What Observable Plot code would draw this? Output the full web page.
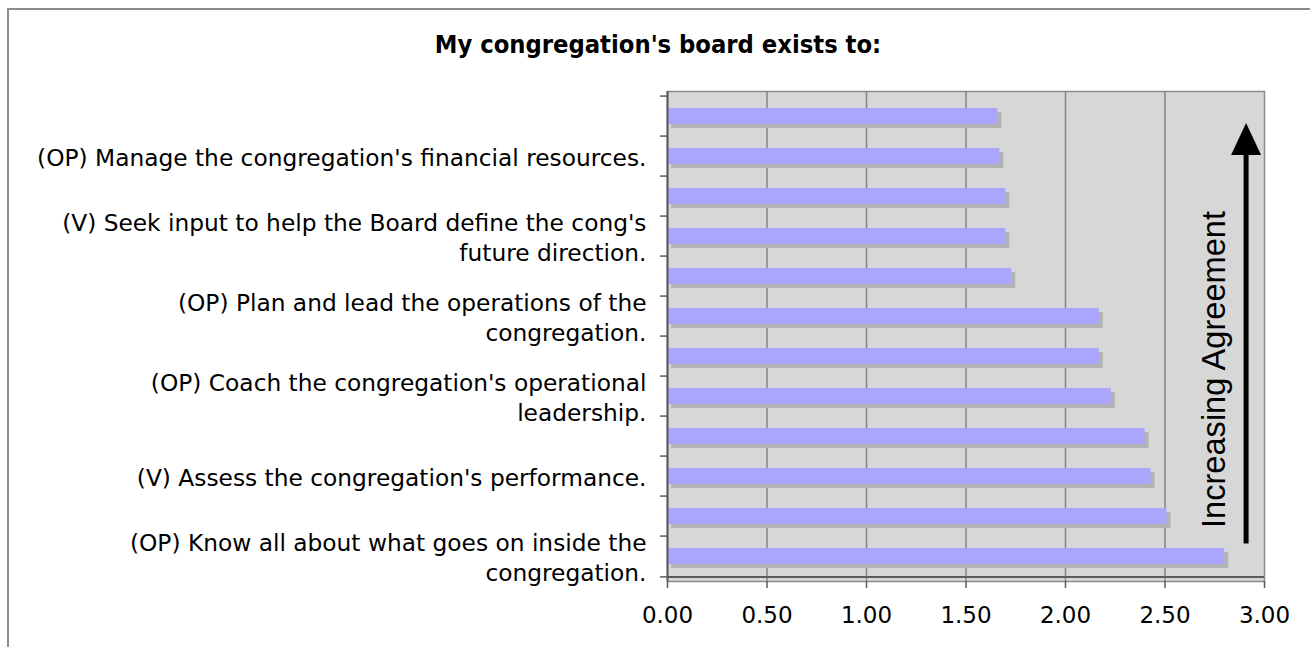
<!DOCTYPE html>
<html>
<head>
<meta charset="utf-8">
<script src="https://cdn.jsdelivr.net/npm/d3@7"></script>
<script src="https://cdn.jsdelivr.net/npm/@observablehq/plot@0.6"></script>
<style>
html, body { margin: 0; padding: 0; background: #fff; }
#wrap { position: relative; width: 1310px; height: 647px; overflow: hidden; }
#border { position: absolute; left: 7px; top: 8px; width: 1400px; height: 700px; border-left: 2px solid #8c8c8c; border-top: 2px solid #8c8c8c; }
#title { position: absolute; left: 0; width: 1316px; top: 32px; text-align: center; line-height: 25px;
  font-family: "DejaVu Sans Condensed", "DejaVu Sans", sans-serif; font-stretch: condensed; font-weight: bold; font-size: 25.3px; color: #000; }
#chart { position: absolute; left: 0; top: 0; }
</style>
</head>
<body>
<div id="wrap">
  <div id="border"></div>
  <div id="chart"></div>
  <div id="title">My congregation's board exists to:</div>
</div>
<script>
// Categories, top to bottom (only every other label is shown in the original)
const categoryIds = ["c01","c02","c03","c04","c05","c06","c07","c08","c09","c10","c11","c12"];
const categoryLabels = [
  "",
  "(OP) Manage the congregation's financial resources.",
  "",
  "(V) Seek input to help the Board define the cong's\nfuture direction.",
  "",
  "(OP) Plan and lead the operations of the\ncongregation.",
  "",
  "(OP) Coach the congregation's operational\nleadership.",
  "",
  "(V) Assess the congregation's performance.",
  "",
  "(OP) Know all about what goes on inside the\ncongregation."
];
const values = [1.66, 1.67, 1.70, 1.70, 1.73, 2.17, 2.17, 2.23, 2.40, 2.43, 2.51, 2.80];
const xTicks = [0, 0.5, 1, 1.5, 2, 2.5, 3];
const annotationText = ["Increasing Agreement"];

const rows = categoryIds.map((id, i) => ({id, label: categoryLabels[i], value: values[i]}));

const W = 1310, H = 647, mT = 91, mB = 66, mL = 667, mR = 46;
const bw = (H - mT - mB) / categoryIds.length;
const axisColor = "#5a5a5a";

const plot = Plot.plot({
  width: W, height: H,
  marginTop: mT, marginBottom: mB, marginLeft: mL, marginRight: mR,
  style: {fontFamily: "DejaVu Sans", fontSize: "23px", color: "#000", background: "transparent", overflow: "visible"},
  x: {domain: [0, 3], axis: null},
  y: {domain: categoryIds, padding: 0, axis: null},
  marks: [
    Plot.frame({fill: "#d7d7d7", stroke: "#8c8c8c", strokeWidth: 1.5}),
    Plot.gridX(xTicks.filter(t => t > 0 && t < 3), {stroke: "#858585", strokeOpacity: 1, strokeWidth: 1.5}),
    Plot.barX(rows, {x: "value", y: "id", fill: "#b3b3b3", dx: 4, dy: 4, insetTop: 12, insetBottom: 12}),
    Plot.barX(rows, {x: "value", y: "id", fill: "#aaa6fe", insetTop: 12, insetBottom: 12}),
    Plot.ruleX([0], {stroke: axisColor, strokeWidth: 2}),
    Plot.ruleY([categoryIds[categoryIds.length - 1]], {dy: bw / 2, stroke: axisColor, strokeWidth: 2}),
    Plot.axisY(categoryIds, {tickFormat: () => "", label: null, tickSize: 7, dy: -bw / 2, stroke: axisColor, strokeWidth: 1.5}),
    Plot.axisY([categoryIds[categoryIds.length - 1]], {tickFormat: () => "", label: null, tickSize: 7, dy: bw / 2, stroke: axisColor, strokeWidth: 1.5}),
    Plot.text(rows, {y: "id", text: "label", frameAnchor: "left", textAnchor: "end", dx: -21, lineHeight: 1.3, fontSize: 23.3, fill: "#000"}),
    Plot.axisX(xTicks, {tickFormat: d3.format(".2f"), label: null, tickSize: 7, tickPadding: 18, stroke: axisColor, strokeWidth: 1.5, fontSize: 23, fill: "#000"}),
    Plot.text(annotationText, {frameAnchor: "right", rotate: -90, dx: -50, dy: 33, fontSize: 32.6, fontFamily: "Liberation Sans", fill: "#000", textAnchor: "middle"})
  ]
});

// Arrow annotation placed via the plot's own scales
const sx = plot.scale("x"), sy = plot.scale("y");
const ax = sx.apply(2.91);
const yTop = sy.apply(categoryIds[0]) + 27;
const yBot = sy.apply(categoryIds[categoryIds.length - 1]) + bw / 2 - 13;
const svg = d3.select(plot);
const g = svg.append("g");
g.append("line").attr("x1", ax).attr("x2", ax).attr("y1", yBot).attr("y2", yTop + 25)
  .attr("stroke", "#000").attr("stroke-width", 5);
g.append("path").attr("d", `M${ax},${yTop} L${ax - 15},${yTop + 32} L${ax + 15},${yTop + 32} Z`).attr("fill", "#000");

document.getElementById("chart").appendChild(plot);
</script>
</body>
</html>
